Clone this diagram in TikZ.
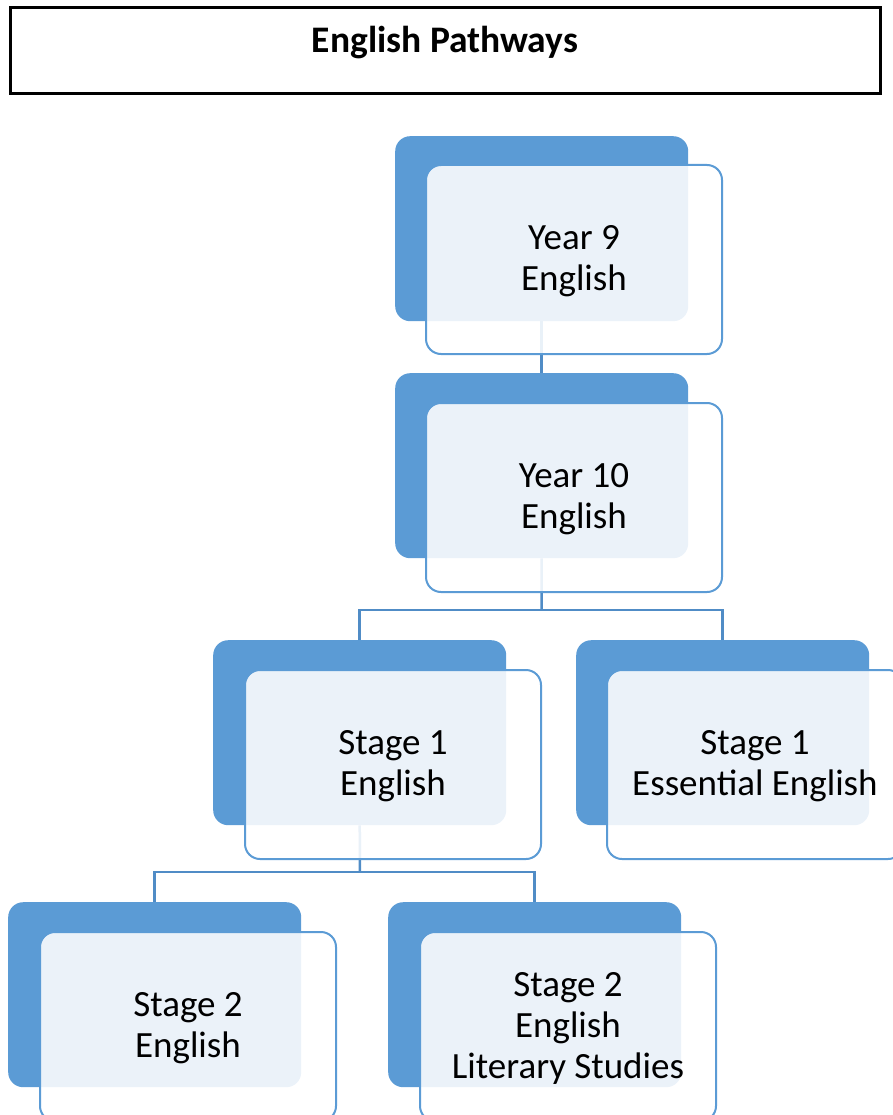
\documentclass[tikz,border=0pt]{standalone}
\usepackage{fontspec}
\setmainfont{Carlito}
\definecolor{pathblue}{RGB}{91,155,213}
\definecolor{linkblue}{RGB}{80,140,198}
\begin{document}
\begin{tikzpicture}[x=1pt,y=-1pt,
  back/.style={rectangle, rounded corners=15pt, fill=pathblue, draw=none,
    minimum width=293pt, minimum height=185pt, anchor=north west, inner sep=0pt},
  front/.style={rectangle, rounded corners=15pt, draw=pathblue, line width=2pt,
    fill=white, fill opacity=0.88, text opacity=1,
    minimum width=296pt, minimum height=189pt, anchor=north west,
    align=center, inner sep=0pt, font=\fontsize{37}{41}\selectfont},
  label/.style={align=center, inner sep=0pt, font=\fontsize{37}{41}\selectfont},
  link/.style={draw=linkblue, line width=2.5pt},
  frame/.style={rectangle, draw=black, line width=3pt, minimum width=870pt,
    minimum height=86pt, inner sep=0pt}
]
\clip (0,0) rectangle (893,1115);
\useasboundingbox (0,0) rectangle (893,1115);

% title bar
\node[frame] (title) at (445,51) {};
\node[font=\fontsize{37.5}{41}\selectfont\bfseries] (titletext) at (445,43) {English Pathways};

% dark backing cards
\node[back] (y9b)  at (395,136) {};
\node[back] (y10b) at (395,373) {};
\node[back] (s1b)  at (213,640) {};
\node[back] (essb) at (576,640) {};
\node[back] (s2b)  at (8,902) {};
\node[back] (litb) at (388,902) {};

% connectors
\coordinate (j1) at (541.5,610);
\coordinate (j2) at (360,872);
\draw[link] (y9b.south) -- (y10b.north);
\draw[link] (y10b.south) -- (j1);
\draw[link] (s1b.north) |- (j1) -| (essb.north);
\draw[link] (s1b.south) -- (j2);
\draw[link] (s2b.north) |- (j2) -| (litb.north);

% front cards
\node[front] (y9)  at (425,164) {};
\node[front] (y10) at (425,402) {};
\node[front] (s1)  at (244,669) {};
\node[front] (ess) at (606,669) {};
\node[front] (s2)  at (39,931)  {};
\node[front] (lit) at (419,931) {};

% card labels
\node[label] (y9t)  at ([yshift=-2pt]y9.center)  {Year 9\\English};
\node[label] (y10t) at ([yshift=-2pt]y10.center) {Year 10\\English};
\node[label] (s1t)  at ([yshift=-2pt]s1.center)  {Stage 1\\English};
\node[label] (esst) at ([yshift=-2pt]ess.center) {Stage 1\\Essential English};
\node[label] (s2t)  at ([yshift=-2pt]s2.center)  {Stage 2\\English};
\node[label] (litt) at ([yshift=-2pt]lit.center) {Stage 2\\English\\Literary Studies};
\end{tikzpicture}
\end{document}
